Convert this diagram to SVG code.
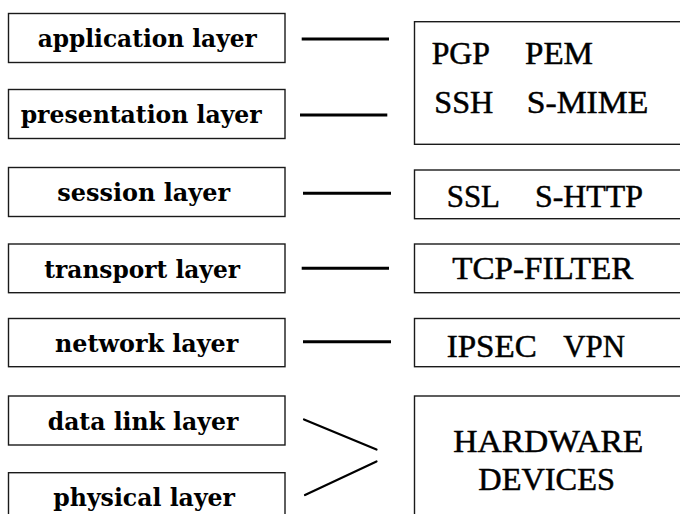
<svg xmlns="http://www.w3.org/2000/svg" width="680" height="514" viewBox="0 0 680 514">
<style>
.box{fill:#fff;stroke:#1a1a1a;stroke-width:1.4}
.ln{stroke:#000;stroke-width:3;fill:none}
.dg{stroke:#000;stroke-width:2.2;fill:none;stroke-linecap:round}
</style>
<rect width="680" height="514" fill="#fff"/>
<g font-family="DejaVu Serif, serif" font-weight="bold" font-size="24" fill="#000">
<g id="application">
<rect class="box" x="8.5" y="13.5" width="276.5" height="49"/>
<text x="37.7" y="47" textLength="219" lengthAdjust="spacingAndGlyphs">application layer</text>
</g>
<g id="presentation">
<rect class="box" x="8.5" y="89.5" width="276.5" height="49"/>
<text x="20.7" y="123" textLength="241" lengthAdjust="spacingAndGlyphs">presentation layer</text>
</g>
<g id="session">
<rect class="box" x="8.5" y="167.5" width="276.5" height="49"/>
<text x="57.3" y="201" textLength="172.7" lengthAdjust="spacingAndGlyphs">session layer</text>
</g>
<g id="transport">
<rect class="box" x="8.5" y="244" width="276.5" height="48.7"/>
<text x="44.3" y="277.5" textLength="195.7" lengthAdjust="spacingAndGlyphs">transport layer</text>
</g>
<g id="network">
<rect class="box" x="8.5" y="318.5" width="276.5" height="48.2"/>
<text x="55" y="351.5" textLength="183.3" lengthAdjust="spacingAndGlyphs">network layer</text>
</g>
<g id="datalink">
<rect class="box" x="8.5" y="396" width="276.5" height="49"/>
<text x="47.7" y="429.5" textLength="190.6" lengthAdjust="spacingAndGlyphs">data link layer</text>
</g>
<g id="physical">
<rect class="box" x="8.5" y="472.7" width="276.5" height="49"/>
<text x="53.3" y="505.5" textLength="181.7" lengthAdjust="spacingAndGlyphs">physical layer</text>
</g>
</g>
<g font-family="Liberation Serif, Times New Roman, serif" font-size="31" fill="#000">
<g id="upper-protocols">
<rect class="box" x="414.5" y="21.7" width="280" height="122.6"/>
<text x="431.7" y="64" stroke="#000" stroke-width="0.5" textLength="58.3" lengthAdjust="spacingAndGlyphs">PGP</text>
<text x="525" y="64" stroke="#000" stroke-width="0.5" textLength="68" lengthAdjust="spacingAndGlyphs">PEM</text>
<text x="434.3" y="112.7" stroke="#000" stroke-width="0.5" textLength="59" lengthAdjust="spacingAndGlyphs">SSH</text>
<text x="526.7" y="112.7" stroke="#000" stroke-width="0.5" textLength="121.6" lengthAdjust="spacingAndGlyphs">S-MIME</text>
</g>
<g id="session-protocols">
<rect class="box" x="414.5" y="170" width="280" height="48.7"/>
<text x="446.7" y="206.7" stroke="#000" stroke-width="0.5" textLength="53.3" lengthAdjust="spacingAndGlyphs">SSL</text>
<text x="535" y="206.7" stroke="#000" stroke-width="0.5" textLength="108" lengthAdjust="spacingAndGlyphs">S-HTTP</text>
</g>
<g id="transport-protocols">
<rect class="box" x="414.5" y="244" width="280" height="48.7"/>
<text x="452.3" y="279" stroke="#000" stroke-width="0.5" textLength="181" lengthAdjust="spacingAndGlyphs">TCP-FILTER</text>
</g>
<g id="network-protocols">
<rect class="box" x="414.5" y="318.5" width="280" height="48.2"/>
<text x="446.7" y="357" stroke="#000" stroke-width="0.5" textLength="90" lengthAdjust="spacingAndGlyphs">IPSEC</text>
<text x="563.3" y="357" stroke="#000" stroke-width="0.5" textLength="61.7" lengthAdjust="spacingAndGlyphs">VPN</text>
</g>
<g id="hardware">
<rect class="box" x="414.5" y="396" width="280" height="130"/>
<text x="453.3" y="451.7" stroke="#000" stroke-width="0.5" textLength="190" lengthAdjust="spacingAndGlyphs">HARDWARE</text>
<text x="478.3" y="490" stroke="#000" stroke-width="0.5" textLength="136.7" lengthAdjust="spacingAndGlyphs">DEVICES</text>
</g>
</g>
<g id="connectors">
<line class="ln" x1="301.7" y1="39" x2="389" y2="39"/>
<line class="ln" x1="300" y1="115" x2="387.3" y2="115"/>
<line class="ln" x1="303" y1="193.3" x2="391" y2="193.3"/>
<line class="ln" x1="301.7" y1="268.3" x2="389" y2="268.3"/>
<line class="ln" x1="303" y1="341.7" x2="391" y2="341.7"/>
<line class="dg" x1="304" y1="419.5" x2="376.5" y2="449.5"/>
<line class="dg" x1="305" y1="495" x2="376.5" y2="461.5"/>
</g>
</svg>
